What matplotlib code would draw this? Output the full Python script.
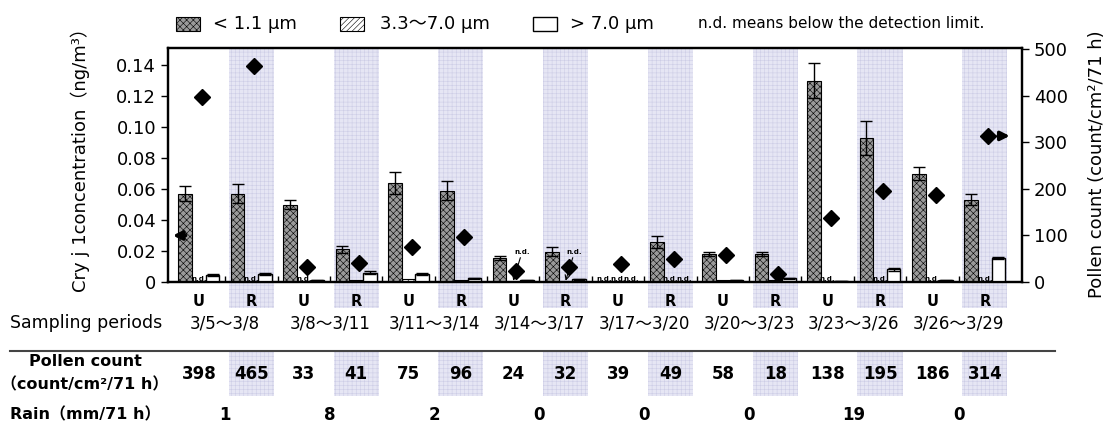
import numpy as np
import matplotlib.pyplot as plt
from matplotlib.patches import Rectangle
from matplotlib.lines import Line2D
from matplotlib.transforms import blended_transform_factory

plt.rcParams['font.family'] = ['DejaVu Sans', 'Noto Sans CJK JP']
plt.rcParams['hatch.linewidth'] = 0.4

nan = np.nan

# sampling periods, each with an urban (U) and a rural (R) site
periods = ['3/5～3/8', '3/8～3/11', '3/11～3/14', '3/14～3/17',
           '3/17～3/20', '3/20～3/23', '3/23～3/26', '3/26～3/29']
sites = ['U', 'R'] * 8

# Cry j 1 concentration (ng/m3) by particle size, nan = n.d.
fine = [0.057, 0.057, 0.050, 0.021, 0.064, 0.059, 0.0155, 0.0195,
        nan, 0.026, 0.018, 0.018, 0.130, 0.093, 0.070, 0.053]
fine_err = [0.005, 0.006, 0.003, 0.0025, 0.007, 0.006, 0.0015, 0.003,
            nan, 0.004, 0.0012, 0.0012, 0.011, 0.011, 0.0045, 0.0035]
mid = [nan, nan, nan, 0.001, 0.002, 0.001, nan, nan,
       nan, nan, 0.001, 0.001, nan, nan, nan, nan]
coarse = [0.0045, 0.005, 0.001, 0.006, 0.005, 0.0024, 0.001, 0.0017,
          nan, nan, 0.001, 0.0024, 0.0005, 0.0082, 0.001, 0.0153]
coarse_err = [0.0005, 0.0007, 0.0003, 0.001, 0.0005, 0.0003, 0.0002, 0.0003,
              nan, nan, 0.0002, 0.0003, 0.0002, 0.001, 0.0002, 0.0006]

# pollen count (count/cm2/71 h) and rain (mm/71 h)
pollen = [398, 465, 33, 41, 75, 96, 24, 32, 39, 49, 58, 18, 138, 195, 186, 314]
rain = [1, 8, 2, 0, 0, 0, 19, 0]

W, H = 1110, 434


def fx(px):
    return px / W


def fy(py):
    return 1 - py / H


fig = plt.figure(figsize=(W / 100, H / 100), dpi=100)
ax = fig.add_axes([fx(168), fy(282), fx(1022) - fx(168), fy(48) - fy(282)])
ax2 = ax.twinx()
trans = blended_transform_factory(ax.transData, fig.transFigure)

x = np.arange(len(sites))
bw = 0.26
err_kw = dict(ecolor='black', elinewidth=1, capsize=4, capthick=1)

fine_style = dict(facecolor='#9a9a9a', edgecolor='black', hatch='xxxxx', linewidth=0.8)
mid_style = dict(facecolor='white', edgecolor='black', hatch='//////', linewidth=0.8)
coarse_style = dict(facecolor='white', edgecolor='black', linewidth=1.0)
band_style = dict(facecolor='#e6e6f4', edgecolor='#cdcde6', hatch='++++', linewidth=0)

ax.bar(x - bw, fine, bw, yerr=fine_err, error_kw=err_kw, zorder=3, **fine_style)
ax.bar(x, mid, bw, zorder=3, **mid_style)
ax.bar(x + bw, coarse, bw, yerr=coarse_err, error_kw=err_kw, zorder=3, **coarse_style)

# n.d. marks
arrow_nd = [6, 7]
for series, off in ((fine, -bw), (mid, 0), (coarse, bw)):
    for i, v in enumerate(series):
        if not np.isnan(v):
            continue
        if off == 0 and i in arrow_nd:
            ax.annotate('n.d.', xy=(i, 0.0008), xytext=(i + 0.02, 0.0175),
                        fontsize=5, fontweight='bold', ha='left', va='bottom',
                        arrowprops=dict(arrowstyle='->', lw=0.8, color='black',
                                        shrinkA=0, shrinkB=0, mutation_scale=8),
                        zorder=5)
        else:
            ax.text(i + off, 0.0003, 'n.d.', fontsize=5, fontweight='bold',
                    ha='center', va='bottom', zorder=5)

# pollen count on the right axis
ax2.plot(x + 0.06, pollen, 'D', color='black', markersize=8, zorder=4)

# arrows showing which axis each series belongs to
ax.annotate('', xy=(-0.55, 0.030), xytext=(-0.2, 0.030),
            arrowprops=dict(arrowstyle='-|>', color='black', lw=2.5, mutation_scale=13))
ax2.annotate('', xy=(15.53, pollen[-1]), xytext=(15.2, pollen[-1]),
             arrowprops=dict(arrowstyle='-|>', color='black', lw=2.5, mutation_scale=13))

# shaded R columns, running down through the site labels, plus table cells
for i, s in enumerate(sites):
    if s != 'R':
        continue
    ax.add_patch(Rectangle((i - 0.43, fy(308)), 0.86, fy(48) - fy(308),
                           transform=trans, clip_on=False, zorder=0, **band_style))
    ax.add_patch(Rectangle((i - 0.43, fy(396)), 0.86, fy(352) - fy(396),
                           transform=trans, clip_on=False, zorder=0, **band_style))

ax.set_xlim(-0.59, 15.71)
ax.set_ylim(0, 0.151)
ax2.set_ylim(0, 503)
ax.set_yticks(np.arange(0, 0.141, 0.02))
ax.set_yticklabels(['0'] + ['%.2f' % v for v in np.arange(0.02, 0.141, 0.02)])
ax2.set_yticks(range(0, 501, 100))
ax.set_xticks(x)
ax.set_xticklabels(sites, fontweight='bold', fontsize=10.5)
ax.set_xticks(np.arange(0.5, 15, 1), minor=True)
ax.tick_params(axis='x', which='major', length=0, pad=9)
ax.tick_params(axis='x', which='minor', direction='in', length=4, width=1)
ax.tick_params(axis='y', labelsize=13, length=5, width=1)
ax2.tick_params(axis='y', labelsize=13, length=5, width=1)
for a in (ax, ax2):
    for sp in a.spines.values():
        sp.set_linewidth(1.6)

# axis titles
fig.text(fx(80), fy(156), 'Cry j 1concentration（ng/m³）', rotation=90,
         ha='center', va='center', fontsize=13)
fig.text(fx(1097), fy(164), 'Pollen count (count/cm²/71 h)', rotation=90,
         ha='center', va='center', fontsize=13)

# legend
legend_items = [(176, 213, '< 1.1 μm', fine_style),
                (340, 380, '3.3～7.0 μm', mid_style),
                (533, 570, '> 7.0 μm', coarse_style)]
for bx, tx, label, style in legend_items:
    fig.add_artist(Rectangle((fx(bx), fy(31)), fx(24), fy(17) - fy(31),
                             transform=fig.transFigure, **style))
    fig.text(fx(tx), fy(24), label, ha='left', va='center', fontsize=13)
fig.text(fx(698), fy(24), 'n.d. means below the detection limit.',
         ha='left', va='center', fontsize=11)

# table below the chart
fig.text(fx(10), fy(323), 'Sampling periods', ha='left', va='center', fontsize=12.5)
for k, p in enumerate(periods):
    ax.text(2 * k + 0.5, fy(323), p, transform=trans, ha='center', va='center', fontsize=12)
fig.add_artist(Line2D([fx(10), fx(1055)], [fy(351), fy(351)], color='#444444', lw=1.5))

fig.text(fx(85), fy(362), 'Pollen count', ha='center', va='center',
         fontsize=11.5, fontweight='bold')
fig.text(fx(85), fy(385), '（count/cm²/71 h）', ha='center', va='center',
         fontsize=11.5, fontweight='bold')
for i, v in enumerate(pollen):
    ax.text(i, fy(374), str(v), transform=trans, ha='center', va='center',
            fontsize=12, fontweight='bold')

fig.text(fx(10), fy(415), 'Rain（mm/71 h）', ha='left', va='center',
         fontsize=11.5, fontweight='bold')
for k, r in enumerate(rain):
    ax.text(2 * k + 0.5, fy(415), str(r), transform=trans, ha='center', va='center',
            fontsize=12, fontweight='bold')

fig.savefig('out.png', dpi=100)
